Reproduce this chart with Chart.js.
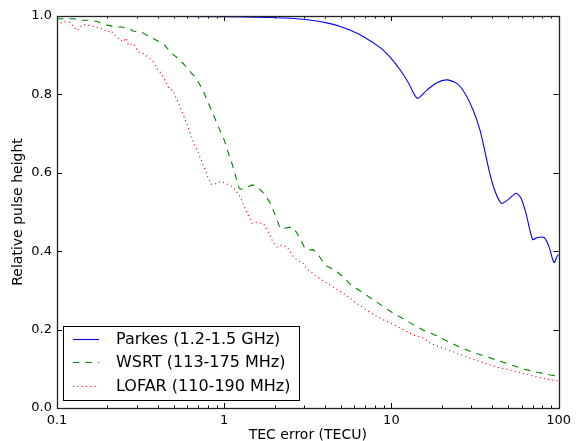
<!DOCTYPE html>
<html>
<head>
<meta charset="utf-8">
<script src="https://cdn.jsdelivr.net/npm/chart.js@4/dist/chart.umd.min.js"></script>
<style>
html,body{margin:0;padding:0;background:#fff;}
#wrap{width:576px;height:441px;position:relative;}
</style>
</head>
<body>
<div id="wrap"><canvas id="c" width="576" height="441"></canvas></div>
<script>
// ---- data ----
const seriesNames = ['Parkes (1.2-1.5 GHz)', 'WSRT (113-175 MHz)', 'LOFAR (110-190 MHz)'];

const parkesX = [0.1, 0.3, 1.0, 1.92, 3.06, 4.37, 5.5, 6.89, 8.65, 9.9, 11.35, 12.7, 14.3, 16.3, 18.7, 21.4, 24.6, 27.5, 30.8, 33.8, 36.1, 38.7, 41.4, 45.4, 49.7, 55.7, 59.6, 63.8, 69.9, 74.8, 81.9, 87.7, 93.8, 98.2, 100];
const parkesY = [1.0, 1.0, 0.998, 0.996, 0.991, 0.980, 0.966, 0.946, 0.918, 0.893, 0.861, 0.828, 0.790, 0.811, 0.830, 0.837, 0.828, 0.803, 0.760, 0.710, 0.658, 0.600, 0.556, 0.522, 0.531, 0.548, 0.535, 0.497, 0.430, 0.435, 0.435, 0.411, 0.371, 0.388, 0.392];

const wsrtX = [0.1, 0.113, 0.126, 0.139, 0.155, 0.174, 0.191, 0.204, 0.221, 0.245, 0.268, 0.287, 0.321, 0.368, 0.412, 0.442, 0.483, 0.53, 0.58, 0.635, 0.68, 0.745, 0.797, 0.853, 0.921, 1.0, 1.06, 1.12, 1.18, 1.228, 1.256, 1.313, 1.471, 1.574, 1.726, 1.89, 2.02, 2.16, 2.26, 2.54, 2.65, 2.84, 3.04, 3.18, 3.4, 3.6, 4.0, 4.58, 5.13, 5.74, 6.58, 7.55, 8.65, 9.9, 11.6, 13.6, 15.6, 18.7, 21.9, 25.7, 30.8, 37.0, 43.4, 52.0, 62.4, 74.8, 89.7, 100];
const wsrtY = [0.993, 0.993, 0.993, 0.989, 0.989, 0.986, 0.978, 0.976, 0.972, 0.972, 0.969, 0.961, 0.959, 0.944, 0.934, 0.925, 0.905, 0.892, 0.875, 0.855, 0.841, 0.811, 0.781, 0.752, 0.718, 0.684, 0.650, 0.620, 0.586, 0.560, 0.558, 0.560, 0.569, 0.565, 0.548, 0.522, 0.492, 0.458, 0.458, 0.462, 0.454, 0.433, 0.407, 0.403, 0.404, 0.395, 0.365, 0.352, 0.335, 0.314, 0.297, 0.280, 0.263, 0.246, 0.229, 0.212, 0.198, 0.184, 0.169, 0.155, 0.142, 0.131, 0.121, 0.110, 0.099, 0.091, 0.084, 0.081];

const lofarX = [0.1, 0.108, 0.118, 0.124, 0.132, 0.142, 0.155, 0.170, 0.186, 0.200, 0.209, 0.218, 0.234, 0.250, 0.258, 0.268, 0.287, 0.307, 0.329, 0.352, 0.376, 0.403, 0.422, 0.452, 0.473, 0.494, 0.506, 0.530, 0.554, 0.580, 0.607, 0.635, 0.664, 0.695, 0.728, 0.762, 0.797, 0.834, 0.893, 0.956, 1.023, 1.096, 1.146, 1.228, 1.284, 1.343, 1.406, 1.471, 1.574, 1.726, 1.805, 1.89, 1.976, 2.07, 2.21, 2.37, 2.48, 2.59, 2.78, 2.97, 3.11, 3.49, 3.82, 4.28, 4.79, 5.37, 6.01, 6.89, 7.91, 9.06, 10.4, 11.9, 13.6, 15.6, 17.1, 20.5, 24.6, 29.5, 35.3, 42.4, 50.8, 61.0, 73.1, 87.7, 100];
const lofarY = [0.976, 0.985, 0.985, 0.976, 0.963, 0.978, 0.976, 0.972, 0.968, 0.959, 0.963, 0.955, 0.942, 0.934, 0.944, 0.925, 0.929, 0.908, 0.904, 0.895, 0.883, 0.861, 0.853, 0.828, 0.813, 0.811, 0.798, 0.781, 0.760, 0.739, 0.718, 0.692, 0.671, 0.654, 0.633, 0.611, 0.590, 0.571, 0.572, 0.578, 0.573, 0.567, 0.560, 0.543, 0.526, 0.505, 0.488, 0.471, 0.474, 0.469, 0.454, 0.437, 0.420, 0.411, 0.416, 0.411, 0.399, 0.386, 0.375, 0.369, 0.356, 0.339, 0.327, 0.314, 0.301, 0.288, 0.271, 0.254, 0.237, 0.224, 0.212, 0.199, 0.186, 0.178, 0.165, 0.152, 0.140, 0.127, 0.116, 0.105, 0.097, 0.089, 0.080, 0.073, 0.069];

const xTickValues = [0.1, 1, 10, 100];
const xTickLabels = ['0.1', '1', '10', '100'];
const yTickValues = [0, 0.2, 0.4, 0.6, 0.8, 1.0];
const yTickLabels = ['0.0', '0.2', '0.4', '0.6', '0.8', '1.0'];
const xTitle = 'TEC error (TECU)';
const yTitle = 'Relative pulse height';

// ---- styles ----
const FONT = 'DejaVu Sans';
const pts = (xs, ys) => xs.map((x, i) => ({x: x, y: ys[i]}));

const frameAndTicks = {
  id: 'frameAndTicks',
  afterDatasetsDraw(chart) {
    const ctx = chart.ctx;
    const a = chart.chartArea;
    const xs = chart.scales.x, ys = chart.scales.y;
    ctx.save();
    ctx.strokeStyle = '#000';
    ctx.lineWidth = 1;
    for (let e = -1; e < 2; e++) {
      for (let m = 1; m <= 9; m++) {
        const v = m * Math.pow(10, e);
        const px = Math.round(xs.getPixelForValue(v)) + 0.5;
        const len = m === 1 ? 5 : 2.5;
        ctx.beginPath();
        ctx.moveTo(px, a.bottom); ctx.lineTo(px, a.bottom - len);
        ctx.moveTo(px, a.top); ctx.lineTo(px, a.top + len);
        ctx.stroke();
      }
    }
    yTickValues.forEach(v => {
      const py = Math.round(ys.getPixelForValue(v)) + 0.5;
      ctx.beginPath();
      ctx.moveTo(a.left, py); ctx.lineTo(a.left + 5, py);
      ctx.moveTo(a.right, py); ctx.lineTo(a.right - 5, py);
      ctx.stroke();
    });
    ctx.lineWidth = 1.3;
    ctx.strokeStyle = '#222';
    ctx.strokeRect(Math.round(a.left) + 0.5, Math.round(a.top) + 0.5, Math.round(a.right - a.left), Math.round(a.bottom - a.top));
    ctx.restore();
  },
  afterDraw(chart) {
    const ctx = chart.ctx;
    const bx = 63.5, by = 326.5, bw = 236, bh = 74;
    ctx.save();
    ctx.fillStyle = '#fff';
    ctx.fillRect(bx, by, bw, bh);
    ctx.strokeStyle = '#000';
    ctx.lineWidth = 1;
    ctx.strokeRect(bx, by, bw, bh);
    const rows = [339, 362, 386];
    chart.data.datasets.forEach((ds, i) => {
      const y = rows[i] + 0.5;
      ctx.beginPath();
      ctx.strokeStyle = ds.borderColor;
      ctx.lineWidth = ds.borderWidth;
      ctx.setLineDash(ds.borderDash || []);
      ctx.moveTo(73, y); ctx.lineTo(99, y);
      ctx.stroke();
      ctx.setLineDash([]);
      ctx.fillStyle = '#000';
      ctx.font = '16px "' + FONT + '"';
      ctx.textBaseline = 'middle';
      ctx.textAlign = 'left';
      ctx.fillText(ds.label, 116, rows[i] + 1);
    });
    ctx.restore();
  }
};

new Chart(document.getElementById('c'), {
  type: 'line',
  data: {
    datasets: [
      {label: seriesNames[0], data: pts(parkesX, parkesY), borderColor: '#0000ff', borderWidth: 1.1, borderDash: [], pointRadius: 0, tension: 0.25, fill: false},
      {label: seriesNames[1], data: pts(wsrtX, wsrtY), borderColor: '#008000', borderWidth: 1.1, borderDash: [6.5, 6], pointRadius: 0, tension: 0, fill: false},
      {label: seriesNames[2], data: pts(lofarX, lofarY), borderColor: '#ff0000', borderWidth: 1.1, borderDash: [1.1, 3.2], pointRadius: 0, tension: 0, fill: false}
    ]
  },
  options: {
    responsive: false,
    animation: false,
    devicePixelRatio: 1,
    layout: {padding: {left: 0, top: 16, right: 14, bottom: 0}},
    plugins: {legend: {display: false}, tooltip: {enabled: false}},
    scales: {
      x: {
        type: 'logarithmic', min: 0.1, max: 100,
        grid: {display: false, drawTicks: false},
        border: {display: false},
        afterBuildTicks: s => { s.ticks = xTickValues.map(v => ({value: v})); },
        afterFit: s => { s.height = 33; },
        ticks: {autoSkip: false, maxRotation: 0, padding: 5, color: '#000', font: {family: FONT, size: 13},
          callback: (v, i) => xTickLabels[i]},
        title: {display: true, text: xTitle, color: '#000', font: {family: FONT, size: 14, lineHeight: 1}, padding: {top: 0, bottom: -1}}
      },
      y: {
        type: 'linear', min: 0, max: 1,
        grid: {display: false, drawTicks: false},
        border: {display: false},
        afterBuildTicks: s => { s.ticks = yTickValues.map(v => ({value: v})); },
        afterFit: s => { s.width = 57; },
        ticks: {padding: 5, color: '#000', font: {family: FONT, size: 13},
          callback: (v, i) => yTickLabels[i]},
        title: {display: true, text: yTitle, color: '#000', font: {family: FONT, size: 14, lineHeight: 1}, padding: {top: 11, bottom: 0}}
      }
    }
  },
  plugins: [frameAndTicks]
});
</script>
</body>
</html>
